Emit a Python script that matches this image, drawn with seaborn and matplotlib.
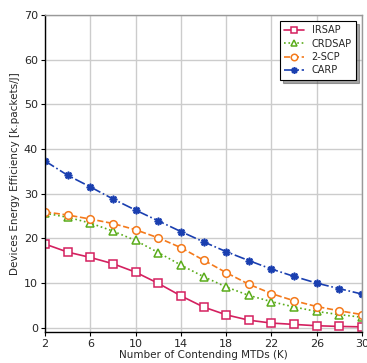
import matplotlib
matplotlib.use("Agg")
import matplotlib.pyplot as plt
import seaborn as sns
import pandas as pd

K = [2, 4, 6, 8, 10, 12, 14, 16, 18, 20, 22, 24, 26, 28, 30]
irsap = [18.7, 16.9, 15.7, 14.3, 12.4, 9.9, 7.1, 4.6, 2.85, 1.65, 1.0, 0.7, 0.4, 0.25, 0.15]
crdsap = [25.6, 24.7, 23.4, 21.6, 19.5, 16.8, 14.0, 11.4, 9.1, 7.2, 5.8, 4.6, 3.6, 2.9, 2.3]
scp2 = [25.9, 25.2, 24.3, 23.3, 21.9, 20.1, 17.9, 15.1, 12.3, 9.7, 7.6, 6.0, 4.7, 3.75, 2.9]
carp = [37.3, 34.1, 31.5, 28.8, 26.3, 23.9, 21.5, 19.2, 17.0, 15.0, 13.1, 11.45, 9.95, 8.7, 7.5]
series_names = ["IRSAP", "CRDSAP", "2-SCP", "CARP"]
xticks = [2, 6, 10, 14, 18, 22, 26, 30]
yticks = [0, 10, 20, 30, 40, 50, 60, 70]

sns.set_style("whitegrid")
plt.rcParams['font.family'] = ['DejaVu Sans']

df = pd.DataFrame({"K": K * 4,
                   "val": irsap + crdsap + scp2 + carp,
                   "Scheme": sum([[n] * len(K) for n in series_names], [])})

fig = plt.figure(figsize=(3.67, 3.63), dpi=100)
ax = fig.add_axes([45/367, 1 - 332/363, 317/367, 317/363])

styles = {
    "IRSAP": dict(color="#d4205f", ls="-", marker="s", mfc="white"),
    "CRDSAP": dict(color="#5aac1a", ls=":", marker="^", mfc="white"),
    "2-SCP": dict(color="#f47a1c", ls="--", marker="o", mfc="white"),
    "CARP": dict(color="#1a3fb0", ls="-.", marker=(8, 1, 0), mfc="#1a3fb0"),
}
for name in series_names:
    st = styles[name]
    sub = df[df["Scheme"] == name]
    sns.lineplot(data=sub, x="K", y="val", ax=ax, color=st["color"],
                 linestyle=st["ls"], marker=st["marker"], markersize=5.5,
                 markerfacecolor=st["mfc"], markeredgecolor=st["color"],
                 markeredgewidth=1.1, linewidth=1.2, label=name)

ax.set_xlim(2, 30)
ax.set_ylim(-1, 70)
ax.set_xticks(xticks)
ax.set_yticks(yticks)
ax.tick_params(labelsize=8, length=3, color="black", left=True, bottom=True, pad=2)
ax.set_xlabel("Number of Contending MTDs (K)", fontsize=7.5, labelpad=1)
ax.set_ylabel("Devices Energy Efficiency [k.packets/J]", fontsize=7.5, labelpad=3)
ax.grid(True, color="#cccccc", linewidth=1.0)
for s in ["left", "bottom"]:
    ax.spines[s].set_color("black")
    ax.spines[s].set_linewidth(1.0)
for s in ["top", "right"]:
    ax.spines[s].set_color("#999999")
    ax.spines[s].set_linewidth(1.0)

leg = ax.legend(loc="upper right", fontsize=7, frameon=True, fancybox=False,
                shadow=True, handlelength=2.0, borderpad=0.45, labelspacing=0.35,
                markerscale=0.85, borderaxespad=0.6)
leg.get_frame().set_edgecolor("black")
leg.get_frame().set_linewidth(0.8)

fig.savefig("out.png", dpi=100)
